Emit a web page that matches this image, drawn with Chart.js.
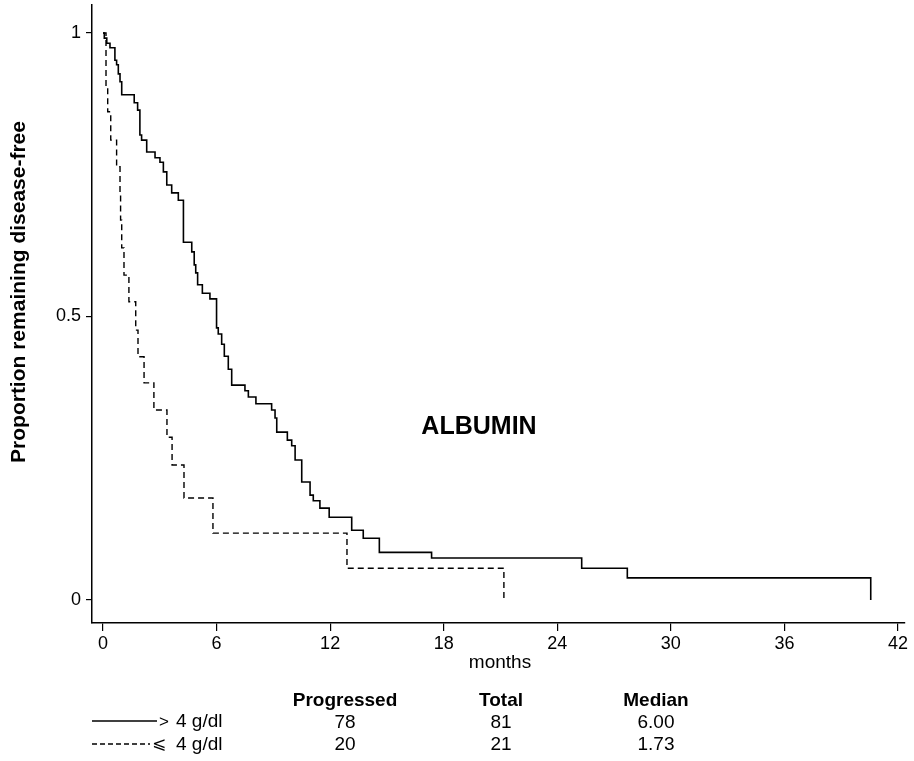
<!DOCTYPE html>
<html>
<head>
<meta charset="utf-8">
<script src="https://cdn.jsdelivr.net/npm/chart.js@4"></script>
<style>
  html, body { margin: 0; padding: 0; background: #fff; }
  #wrap { width: 914px; height: 761px; }
</style>
</head>
<body>
<div id="wrap"><canvas id="c" width="914" height="761"></canvas></div>
<script>
// ---- data ----
const xTicks = [0, 6, 12, 18, 24, 30, 36, 42];
const yTicks = [0, 0.5, 1];
const yTickLabels = ['0', '0.5', '1'];

// > 4 g/dl (solid): event times (months) and proportion remaining after each step
const solidTimes = [0, 0.07, 0.20, 0.37, 0.63, 0.72, 0.81, 0.90, 0.99, 1.65, 1.83, 1.95, 2.04, 2.31, 2.75,
  3.01, 3.19, 3.37, 3.63, 3.98, 4.25, 4.69, 4.82, 4.90, 5.00, 5.25, 5.65, 6.00, 6.09, 6.27, 6.41, 6.62,
  6.80, 7.50, 7.68, 8.08, 8.91, 9.09, 9.18, 9.74, 9.97, 10.15, 10.50, 10.94, 11.11, 11.46, 11.95, 13.14,
  13.75, 14.60, 17.36, 25.29, 27.70, 40.56];
const solidSurv = [1, 0.991, 0.982, 0.974, 0.952, 0.944, 0.928, 0.914, 0.891, 0.877, 0.864, 0.820, 0.811, 0.790, 0.780,
  0.772, 0.755, 0.732, 0.718, 0.705, 0.631, 0.614, 0.591, 0.577, 0.556, 0.541, 0.531, 0.480, 0.469, 0.451, 0.430, 0.407,
  0.379, 0.369, 0.358, 0.346, 0.335, 0.321, 0.296, 0.282, 0.272, 0.247, 0.208, 0.185, 0.175, 0.162, 0.146, 0.123,
  0.109, 0.084, 0.074, 0.056, 0.039, 0];

// <= 4 g/dl (dashed)
const dashedTimes = [0, 0.16, 0.25, 0.41, 0.72, 0.90, 0.93, 0.99, 1.11, 1.37, 1.73, 1.85, 2.17, 2.69, 3.38,
  3.65, 4.28, 5.81, 12.89, 21.18];
const dashedSurv = [1, 0.905, 0.861, 0.811, 0.764, 0.714, 0.670, 0.621, 0.573, 0.526, 0.476, 0.429, 0.383, 0.335, 0.287,
  0.238, 0.180, 0.118, 0.056, 0];

// summary table
const groupSigns = ['>', '\u2A7D'];
const groupLabels = ['4 g/dl', '4 g/dl'];
const tableHeaders = ['Progressed', 'Total', 'Median'];
const progressed = ['78', '20'];
const totals = ['81', '21'];
const medians = ['6.00', '1.73'];

const chartTitle = 'ALBUMIN';
const xTitle = 'months';
const yTitle = 'Proportion remaining disease-free';

// ---- drawing ----
const FAM = '"Liberation Sans", Arial, Helvetica, sans-serif';
const toPts = (ts, ss) => ts.map((t, i) => ({ x: t, y: ss[i] }));

const bgPlugin = {
  id: 'bg',
  beforeDraw(chart) {
    const ctx = chart.ctx;
    ctx.save();
    ctx.fillStyle = '#fff';
    ctx.fillRect(0, 0, chart.width, chart.height);
    ctx.restore();
  }
};

const textPlugin = {
  id: 'texts',
  afterDraw(chart) {
    const ctx = chart.ctx;
    ctx.save();
    ctx.fillStyle = '#000';
    ctx.strokeStyle = '#000';

    // y title
    ctx.save();
    ctx.translate(19, 292);
    ctx.rotate(-Math.PI / 2);
    ctx.font = 'bold 21px ' + FAM;
    ctx.textAlign = 'center';
    ctx.textBaseline = 'middle';
    ctx.fillText(yTitle, 0, 0);
    ctx.restore();

    // x title
    ctx.font = '19px ' + FAM;
    ctx.textAlign = 'center';
    ctx.textBaseline = 'middle';
    ctx.fillText(xTitle, 500, 663);

    // in-plot label
    ctx.font = 'bold 25px ' + FAM;
    ctx.fillText(chartTitle, 479, 427);

    // table
    const cols = [345, 501, 656];
    ctx.font = 'bold 19px ' + FAM;
    tableHeaders.forEach((h, i) => ctx.fillText(h, cols[i], 701));
    ctx.font = '19px ' + FAM;
    const rowsY = [723, 745];
    rowsY.forEach((y, r) => {
      ctx.fillText(progressed[r], cols[0], y);
      ctx.fillText(totals[r], cols[1], y);
      ctx.fillText(medians[r], cols[2], y);
    });

    // legend samples
    ctx.lineWidth = 1.3;
    ctx.beginPath();
    ctx.setLineDash([]);
    ctx.moveTo(92, 721); ctx.lineTo(157, 721);
    ctx.stroke();
    ctx.beginPath();
    ctx.setLineDash([5, 3]);
    ctx.moveTo(92, 744); ctx.lineTo(150, 744);
    ctx.stroke();
    ctx.setLineDash([]);
    ctx.textAlign = 'left';
    ctx.font = '17px ' + FAM;
    ctx.fillText(groupSigns[0], 159, 722);
    ctx.font = '17px "DejaVu Sans", ' + FAM;
    ctx.fillText(groupSigns[1], 152, 745);
    ctx.font = '19px ' + FAM;
    ctx.fillText(groupLabels[0], 176, 722);
    ctx.fillText(groupLabels[1], 176, 745);
    ctx.restore();
  }
};

new Chart(document.getElementById('c'), {
  type: 'line',
  data: {
    datasets: [
      {
        label: '> 4 g/dl',
        data: toPts(solidTimes, solidSurv),
        borderColor: '#000',
        borderWidth: 1.6,
        stepped: 'before',
        pointRadius: 0,
        fill: false
      },
      {
        label: '<= 4 g/dl',
        data: toPts(dashedTimes, dashedSurv),
        borderColor: '#000',
        borderWidth: 1.4,
        borderDash: [6, 4],
        stepped: 'before',
        pointRadius: 0,
        fill: false
      }
    ]
  },
  options: {
    responsive: false,
    animation: false,
    devicePixelRatio: 1,
    layout: { padding: { top: 5, right: 9, left: 0, bottom: 0 } },
    plugins: { legend: { display: false }, tooltip: { enabled: false }, title: { display: false } },
    scales: {
      x: {
        type: 'linear',
        min: -0.58,
        max: 42.37,
        afterBuildTicks: s => { s.ticks = xTicks.map(v => ({ value: v })); },
        afterFit: s => { s.height = 138; s.paddingLeft = 0; s.paddingRight = 0; },
        ticks: {
          color: '#000',
          font: { family: FAM, size: 18 },
          padding: 2,
          maxRotation: 0,
          autoSkip: false,
          callback: v => String(v)
        },
        grid: { display: true, drawOnChartArea: false, drawTicks: true, tickLength: 8, color: '#000', lineWidth: 1.2 },
        border: { display: true, color: '#000', width: 1.5 }
      },
      y: {
        type: 'linear',
        min: -0.0406,
        max: 1.0494,
        afterBuildTicks: s => { s.ticks = yTicks.map(v => ({ value: v })); },
        afterFit: s => { s.width = 92; s.paddingTop = 0; s.paddingBottom = 0; },
        ticks: {
          color: '#000',
          font: { family: FAM, size: 18 },
          padding: 5,
          autoSkip: false,
          callback: v => yTickLabels[yTicks.indexOf(v)] ?? String(v)
        },
        grid: { display: true, drawOnChartArea: false, drawTicks: true, tickLength: 6, color: '#000', lineWidth: 1.2 },
        border: { display: true, color: '#000', width: 1.5 }
      }
    }
  },
  plugins: [bgPlugin, textPlugin]
});
</script>
</body>
</html>
